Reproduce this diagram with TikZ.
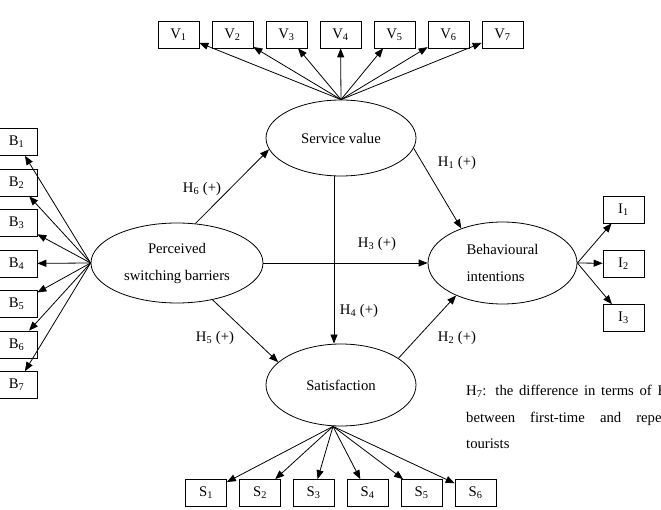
\documentclass[tikz,border=0pt]{standalone}
\usepackage{fontspec}
\setmainfont{Liberation Serif}
\usetikzlibrary{shapes.geometric, arrows.meta}
\tikzset{
  block/.style={
    rectangle,
    draw=black,
    line width=0.7pt,
    minimum width=41pt,
    minimum height=27pt,
    inner sep=0pt,
    font=\fontsize{14.7}{17}\selectfont
  },
  latent/.style={
    ellipse,
    draw=black,
    line width=0.8pt,
    inner sep=0pt,
    align=center,
    font=\fontsize{14.7}{27}\selectfont,
    execute at begin node=\setlength{\baselineskip}{27pt}
  },
  hyp/.style={inner sep=0pt, font=\fontsize{14.7}{17}\selectfont}
}
\tikzstyle{arrow} = [-{Triangle[length=9pt, width=7pt]}, line width=0.8pt]
\def\ix#1#2{#1\textsubscript{#2}}

\begin{document}
\begin{tikzpicture}[x=1pt, y=-1pt]
    \clip (0,0) rectangle (661,510);
    % latent constructs
    \node[latent, minimum width=150pt, minimum height=76pt] (serv) at (341, 138) {Service value};
    \node[latent, minimum width=172pt, minimum height=80pt] (perc) at (177, 263) {Perceived\\switching barriers};
    \node[latent, align=left, minimum width=149pt, minimum height=82pt] (beh) at (502.5, 263) {Behavioural\\intentions};
    \node[latent, minimum width=150pt, minimum height=82pt] (sat) at (341, 385) {Satisfaction};
    % indicators
    \node[block] (v1) at (178.5, 34.5) {\ix{V}{1}};
    \node[block] (v2) at (232.5, 34.5) {\ix{V}{2}};
    \node[block] (v3) at (286.5, 34.5) {\ix{V}{3}};
    \node[block] (v4) at (340.5, 34.5) {\ix{V}{4}};
    \node[block] (v5) at (394.5, 34.5) {\ix{V}{5}};
    \node[block] (v6) at (448.5, 34.5) {\ix{V}{6}};
    \node[block] (v7) at (502.5, 34.5) {\ix{V}{7}};
    \node[block] (b1) at (16.5, 142) {\ix{B}{1}};
    \node[block] (b2) at (16.5, 182.5) {\ix{B}{2}};
    \node[block] (b3) at (16.5, 223) {\ix{B}{3}};
    \node[block] (b4) at (16.5, 263.5) {\ix{B}{4}};
    \node[block] (b5) at (16.5, 304) {\ix{B}{5}};
    \node[block] (b6) at (16.5, 344.5) {\ix{B}{6}};
    \node[block] (b7) at (16.5, 385) {\ix{B}{7}};
    \node[block] (i1) at (623.5, 209.5) {\ix{I}{1}};
    \node[block] (i2) at (623.5, 263.5) {\ix{I}{2}};
    \node[block] (i3) at (623.5, 318) {\ix{I}{3}};
    \node[block] (s1) at (206, 493) {\ix{S}{1}};
    \node[block] (s2) at (260, 493) {\ix{S}{2}};
    \node[block] (s3) at (313.5, 493) {\ix{S}{3}};
    \node[block] (s4) at (367.5, 493) {\ix{S}{4}};
    \node[block] (s5) at (421.5, 493) {\ix{S}{5}};
    \node[block] (s6) at (475.5, 493) {\ix{S}{6}};
    % loadings
    \draw[arrow] (serv.north) -- (v1);
    \draw[arrow] (serv.north) -- (v2);
    \draw[arrow] (serv.north) -- (v3);
    \draw[arrow] (serv.north) -- (v4);
    \draw[arrow] (serv.north) -- (v5);
    \draw[arrow] (serv.north) -- (v6);
    \draw[arrow] (serv.north) -- (v7);
    \draw[arrow] (perc.west) -- (b1);
    \draw[arrow] (perc.west) -- (b2);
    \draw[arrow] (perc.west) -- (b3);
    \draw[arrow] (perc.west) -- (b4);
    \draw[arrow] (perc.west) -- (b5);
    \draw[arrow] (perc.west) -- (b6);
    \draw[arrow] (perc.west) -- (b7);
    \draw[arrow] (beh.east) -- (i1);
    \draw[arrow] (beh.east) -- (i2);
    \draw[arrow] (beh.east) -- (i3);
    \draw[arrow] ([xshift=-8pt]sat.south) -- (s1);
    \draw[arrow] ([xshift=-8pt]sat.south) -- (s2);
    \draw[arrow] ([xshift=-8pt]sat.south) -- (s3);
    \draw[arrow] ([xshift=-8pt]sat.south) -- (s4);
    \draw[arrow] ([xshift=-8pt]sat.south) -- (s5);
    \draw[arrow] ([xshift=-8pt]sat.south) -- (s6);
    % hypotheses
    \draw[arrow] (perc.65) -- (serv.189);
    \draw[arrow] (perc.-46) -- (sat.160);
    \draw[arrow] (perc.east) -- (beh.west);
    \draw[arrow] (serv.-8) -- (beh.140);
    \draw[arrow] (sat.25) -- (beh.215);
    \draw[arrow] ([xshift=-7pt]serv.south) -- ([xshift=-7pt]sat.north);
    \node[hyp] (h1) at (457, 163) {\ix{H}{1} (+)};
    \node[hyp] (h2) at (457, 338) {\ix{H}{2} (+)};
    \node[hyp] (h3) at (377, 244) {\ix{H}{3} (+)};
    \node[hyp] (h4) at (359, 311) {\ix{H}{4} (+)};
    \node[hyp] (h5) at (215, 338) {\ix{H}{5} (+)};
    \node[hyp] (h6) at (202, 189) {\ix{H}{6} (+)};
    \node[hyp, anchor=north west, text width=206pt, align=justify,
          font=\fontsize{14.7}{26.7}\selectfont] (h7) at (466, 385)
      {\noindent\ix{H}{7}: the difference in terms of BI\linebreak between first-time and repeat\linebreak tourists};
\end{tikzpicture}
\end{document}
